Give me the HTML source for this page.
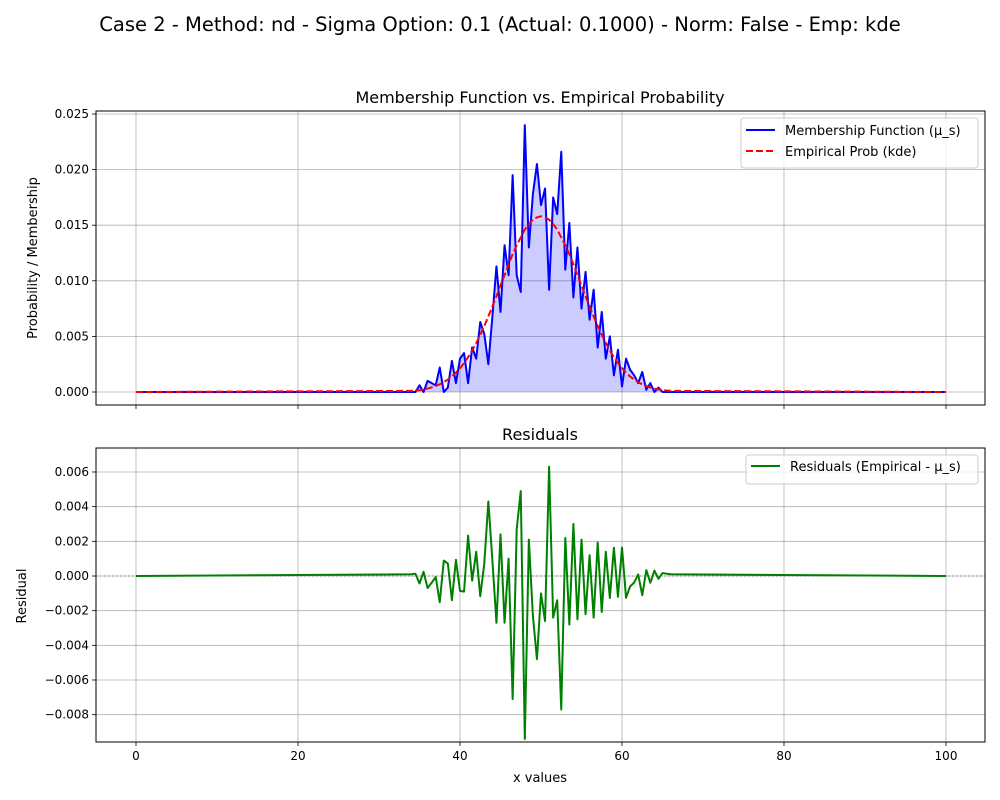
<!DOCTYPE html>
<html><head><meta charset="utf-8"><style>
body{margin:0;background:#fff}
svg{display:block;font-family:"DejaVu Sans","Liberation Sans",sans-serif}
</style></head><body>
<svg id="fig" width="1000" height="800" viewBox="0 0 1000 800">
<text x="500" y="31" text-anchor="middle" font-size="19.5">Case 2 - Method: nd - Sigma Option: 0.1 (Actual: 0.1000) - Norm: False - Emp: kde</text>
<g id="topPanel"></g>
<g id="botPanel"></g>
</svg>
<script>
const xVals=[34,34.5,35,35.5,36,36.5,37,37.5,38,38.5,39,39.5,40,40.5,41,41.5,42,42.5,43,43.5,44,44.5,45,45.5,46,46.5,47,47.5,48,48.5,49,49.5,50,50.5,51,51.5,52,52.5,53,53.5,54,54.5,55,55.5,56,56.5,57,57.5,58,58.5,59,59.5,60,60.5,61,61.5,62,62.5,63,63.5,64,64.5,65,65.5,66];
const kdeVals=[0.0001,0.00013,0.00017,0.00024,0.00031,0.00041,0.00054,0.00069,0.00089,0.00112,0.0014,0.00174,0.00214,0.0026,0.00313,0.00373,0.0044,0.00513,0.00593,0.0068,0.0077,0.0086,0.0096,0.0105,0.0115,0.0124,0.0132,0.0139,0.0146,0.0151,0.0155,0.0157,0.0158,0.0157,0.0155,0.0151,0.0146,0.0139,0.0132,0.0124,0.0115,0.0105,0.0096,0.0086,0.0077,0.0068,0.00593,0.00513,0.0044,0.00373,0.00313,0.0026,0.00214,0.00174,0.0014,0.00112,0.00089,0.00069,0.00054,0.00041,0.00031,0.00024,0.00017,0.00013,0.0001];
const muVals=[0,0,0.0006,0,0.0010,0.0008,0.0006,0.0022,0,0.0004,0.0028,0.0008,0.0030,0.0035,0.0008,0.0040,0.0030,0.0063,0.0052,0.0025,0.0068,0.0113,0.0072,0.0132,0.0105,0.0195,0.0105,0.0090,0.0240,0.0130,0.0178,0.0205,0.0168,0.0183,0.0092,0.0175,0.0160,0.0216,0.0110,0.0152,0.0085,0.0130,0.0075,0.0108,0.0065,0.0092,0.0040,0.0072,0.0030,0.0050,0.0015,0.0038,0.0005,0.0030,0.0020,0.0015,0.0008,0.0018,0.0002,0.0008,0,0.0004,0,0,0];
const xTicks=[0,20,40,60,80,100];
const topTicks=[0,0.005,0.010,0.015,0.020,0.025];
const botTicks=[-0.008,-0.006,-0.004,-0.002,0,0.002,0.004,0.006];

const NS="http://www.w3.org/2000/svg";
function mk(p,t,a){const e=document.createElementNS(NS,t);for(const k in a)e.setAttribute(k,a[k]);p.appendChild(e);return e;}
const X=v=>136+v*8.1;
const L=96,R=985;
const yT=v=>392-v*11120;
const yB=v=>576-v*17333;

function frame(g,y0,y1,yfn,ticks,fmt,showX){
  for(const t of xTicks){
    const gl=mk(g,'line',{x1:X(t),x2:X(t),y1:y0,y2:y1,stroke:'#b0b0b0','stroke-width':0.8});
    
    mk(g,'line',{x1:X(t),x2:X(t),y1:y1,y2:y1+4,stroke:'#000','stroke-width':0.8});
    if(showX){const tx=mk(g,'text',{x:X(t),y:y1+18,'text-anchor':'middle','font-size':12});tx.textContent=t;
      }
  }
  for(const t of ticks){
    const y=yfn(t);
    const gl=mk(g,'line',{x1:L,x2:R,y1:y,y2:y,stroke:'#b0b0b0','stroke-width':0.8});
    
    mk(g,'line',{x1:L-4,x2:L,y1:y,y2:y,stroke:'#000','stroke-width':0.8});
    const tx=mk(g,'text',{x:L-7,y:y+4,'text-anchor':'end','font-size':12});tx.textContent=fmt(t);
    
  }
}
function fmtv(t){const s=t.toFixed(3);return s.startsWith('-')?'\u2212'+s.slice(1):s;}

const topG=document.getElementById('topPanel'), botG=document.getElementById('botPanel');
frame(topG,111,405,yT,topTicks,fmtv,false);
frame(botG,448,742,yB,botTicks,fmtv,true);

const full=[[0,0,0],...xVals.map((x,i)=>[x,muVals[i],kdeVals[i]]),[100,0,0]];
let fillD='M'+X(0)+','+yT(0);
full.forEach(p=>fillD+=' L'+X(p[0])+','+yT(p[1]));
fillD+=' L'+X(100)+','+yT(0)+'Z';
const fill=mk(topG,'path',{d:fillD,fill:'#0000ff','fill-opacity':0.2,stroke:'none'});

const muL=mk(topG,'polyline',{points:full.map(p=>X(p[0])+','+yT(p[1])).join(' '),fill:'none',stroke:'#0000ff','stroke-width':2,'stroke-linejoin':'round'});

const kdL=mk(topG,'polyline',{points:full.map(p=>X(p[0])+','+yT(p[2])).join(' '),fill:'none',stroke:'#ff0000','stroke-width':2,'stroke-dasharray':'7,3'});

mk(topG,'rect',{x:L,y:111,width:R-L,height:294,fill:'none',stroke:'#000','stroke-width':1});

const zl=mk(botG,'line',{x1:L,x2:R,y1:yB(0),y2:yB(0),stroke:'#808080','stroke-width':1,'stroke-dasharray':'1.5,2.5'});

const resL=mk(botG,'polyline',{points:full.map(p=>X(p[0])+','+yB(p[2]-p[1])).join(' '),fill:'none',stroke:'#008000','stroke-width':2,'stroke-linejoin':'round'});

mk(botG,'rect',{x:L,y:448,width:R-L,height:294,fill:'none',stroke:'#000','stroke-width':1});

function txt(p,x,y,s,fs,name,extra){const t=mk(p,'text',Object.assign({x:x,y:y,'text-anchor':'middle','font-size':fs},extra||{}));t.textContent=s;
 return t;}
txt(topG,540,103,'Membership Function vs. Empirical Probability',16,'top-title');
txt(botG,540,440,'Residuals',16,'bottom-title');
txt(topG,37,258,'Probability / Membership',13,'top-y-axis-title',{transform:'rotate(-90 37 258)'});
txt(botG,26,596,'Residual',13,'bottom-y-axis-title',{transform:'rotate(-90 26 596)'});
txt(botG,540,782,'x values',13,'x-axis-title');

const lg1=mk(topG,'g',{});

mk(lg1,'rect',{x:741,y:118,width:237,height:50,rx:3,fill:'#fff','fill-opacity':0.8,stroke:'#ccc'});
mk(lg1,'line',{x1:746,x2:775,y1:130,y2:130,stroke:'#0000ff','stroke-width':2});
txt(lg1,785,135,'Membership Function (μ_s)',13,'legend-membership',{'text-anchor':'start'});
mk(lg1,'line',{x1:746,x2:775,y1:151,y2:151,stroke:'#ff0000','stroke-width':2,'stroke-dasharray':'7,3'});
txt(lg1,785,156,'Empirical Prob (kde)',13,'legend-kde',{'text-anchor':'start'});
const lg2=mk(botG,'g',{});

mk(lg2,'rect',{x:746,y:455,width:232,height:29,rx:3,fill:'#fff','fill-opacity':0.8,stroke:'#ccc'});
mk(lg2,'line',{x1:751,x2:780,y1:466,y2:466,stroke:'#008000','stroke-width':2});
txt(lg2,790,471,'Residuals (Empirical - μ_s)',13,'legend-residuals',{'text-anchor':'start'});
</script>
</body></html>
